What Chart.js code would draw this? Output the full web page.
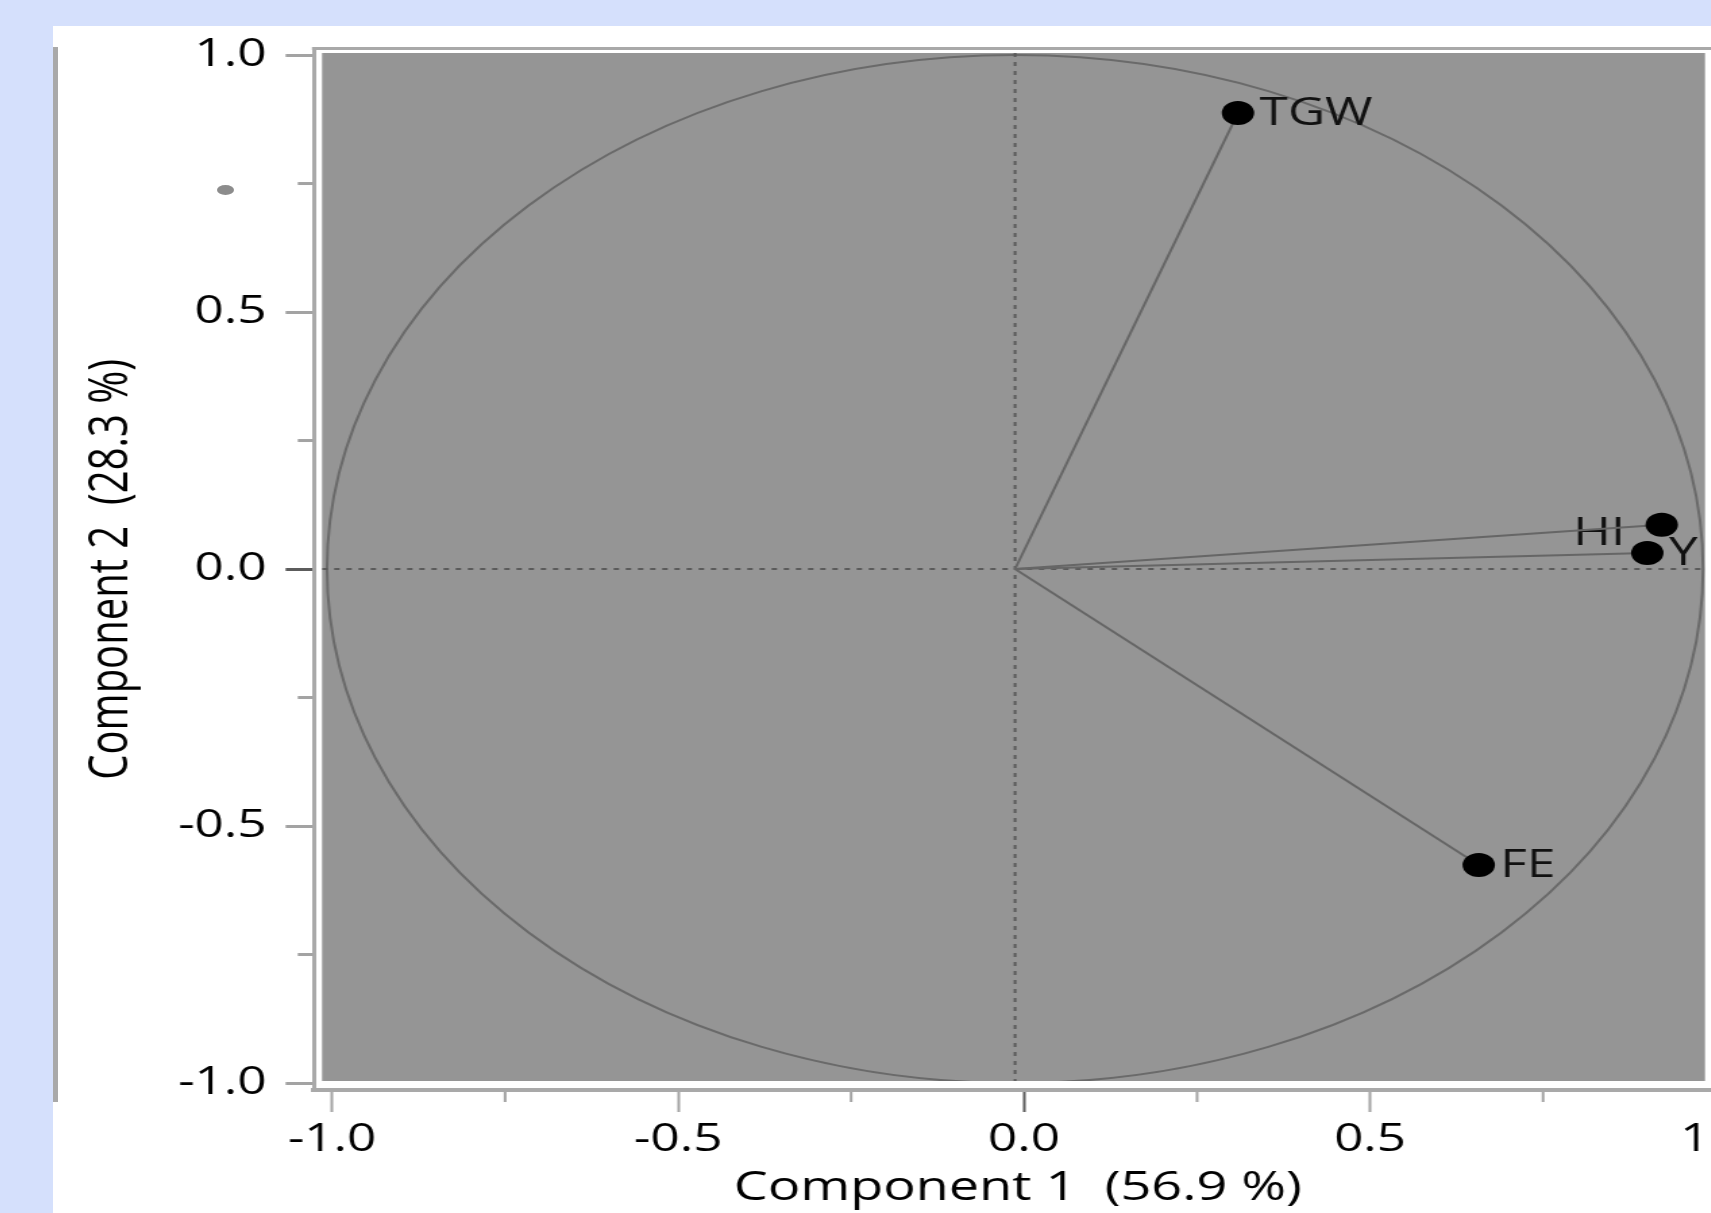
<!DOCTYPE html>
<html lang="en">
  <head>
    <meta charset="utf-8" />
    <title>Component 1 vs Component 2</title>
    <script src="https://cdn.jsdelivr.net/npm/chart.js"></script>
    <style>
      html, body { margin: 0; padding: 0; overflow: hidden; }
      body { width: 1711px; height: 1213px; background: #d5e0fc; position: relative; }
      .panel { position: absolute; left: 53px; top: 26px; right: 0; bottom: 0; background: #fff; }
      .edge { position: absolute; left: 53px; top: 47px; width: 5px; height: 1055px; background: #a9a9a9; }
      .speck { position: absolute; left: 217px; top: 185px; width: 17px; height: 10px; border-radius: 50%; background: #8c8c8c; }
      /* the original picture is stretched sideways, so the canvas is too */
      #pca { position: absolute; left: 53px; top: 26px; transform: scaleX(1.35); transform-origin: 0 0; }
    </style>
  </head>
  <body>
    <div class="panel"></div>
    <div class="edge"></div>
    <div class="speck"></div>
    <canvas id="pca" width="1260" height="1187"></canvas>

    <script>
      // loadings
      const VARIABLES = ['TGW', 'HI', 'Y', 'FE'];
      const COMP1 = [0.324, 0.940, 0.919, 0.674];
      const COMP2 = [0.887, 0.086, 0.031, -0.576];
      const MAJOR_TICKS = [-1, -0.5, 0, 0.5, 1];
      const MINOR_TICKS = [-0.75, -0.25, 0.25, 0.75];
      const X_TITLE = 'Component 1  (56.9 %)';
      const Y_TITLE = 'Component 2  (28.3 %)';

      // labels that sit on the left of their point
      const LABEL_LEFT = ['HI'];

      const FONT = "'Open Sans', 'Noto Sans', sans-serif";
      const FRAME = '#a9a9a9';
      const INSET = { left: 6, top: 4.5, right: 12.3, bottom: 9 };

      function fillBox(chart) {
        const a = chart.chartArea;
        return {
          left: a.left + INSET.left,
          top: a.top + INSET.top,
          right: a.right - INSET.right,
          bottom: a.bottom - INSET.bottom
        };
      }

      function tickColor(c) {
        return c.tick && c.tick.value === 0 ? '#5c5c5c' : '#a3a3a3';
      }

      const pcaPlot = {
        id: 'pcaPlot',
        beforeDraw(chart) {
          const ctx = chart.ctx;
          const a = chart.chartArea;
          const b = fillBox(chart);
          ctx.save();
          ctx.fillStyle = '#959595';
          ctx.fillRect(b.left, b.top, b.right - b.left, b.bottom - b.top);
          ctx.fillStyle = FRAME;
          ctx.fillRect(a.left - 1.5, a.top - 1.5, chart.width, 3);
          ctx.restore();
        },
        beforeDatasetsDraw(chart) {
          const ctx = chart.ctx;
          const b = fillBox(chart);
          const xd = chart.scales.xd;
          const y = chart.scales.y;
          const cx = xd.getPixelForValue(0);
          const cy = y.getPixelForValue(0);

          ctx.save();
          ctx.beginPath();
          ctx.rect(b.left, b.top, b.right - b.left, b.bottom - b.top);
          ctx.clip();

          // unit circle
          ctx.strokeStyle = '#6a6a6a';
          ctx.lineWidth = 2;
          ctx.beginPath();
          ctx.ellipse(cx, cy, xd.getPixelForValue(1) - cx, cy - y.getPixelForValue(1), 0, 0, Math.PI * 2);
          ctx.stroke();

          // zero lines
          ctx.strokeStyle = '#5a5a5a';
          ctx.setLineDash([4, 5]);
          ctx.beginPath();
          ctx.moveTo(cx, b.top);
          ctx.lineTo(cx, b.bottom);
          ctx.moveTo(b.left, cy);
          ctx.lineTo(b.right, cy);
          ctx.stroke();
          ctx.setLineDash([]);

          // variable names
          ctx.font = '38px ' + FONT;
          ctx.fillStyle = '#111';
          ctx.textBaseline = 'middle';
          VARIABLES.forEach(function (name, i) {
            const px = xd.getPixelForValue(COMP1[i]);
            const py = y.getPixelForValue(COMP2[i]);
            if (LABEL_LEFT.includes(name)) {
              ctx.textAlign = 'right';
              ctx.fillText(name, px - 27, py + 9);
            } else {
              ctx.textAlign = 'left';
              ctx.fillText(name, px + 16, py + 1);
            }
          });
          ctx.restore();
        },
        afterDraw(chart) {
          const ctx = chart.ctx;
          const a = chart.chartArea;
          ctx.save();
          ctx.fillStyle = '#a3a3a3';
          MINOR_TICKS.forEach(function (v) {
            const yy = chart.scales.y.getPixelForValue(v);
            ctx.fillRect(a.left - 12, yy - 1.5, 11, 3);
            const xx = chart.scales.x.getPixelForValue(v);
            ctx.fillRect(xx - 1, a.bottom + 2, 2, 10);
          });
          ctx.restore();
        }
      };

      // one line from the origin to each variable
      const datasets = VARIABLES.map(function (name, i) {
        return {
          label: name,
          data: [{ x: 0, y: 0 }, { x: COMP1[i], y: COMP2[i] }],
          showLine: true,
          borderColor: '#666',
          borderWidth: 2,
          pointRadius: [0, 12],
          pointHoverRadius: [0, 12],
          pointBackgroundColor: '#000',
          pointBorderWidth: 0,
          xAxisID: 'xd',
          yAxisID: 'y'
        };
      });

      const setTicks = function (scale) {
        scale.ticks = MAJOR_TICKS.map(function (v) { return { value: v }; });
      };

      const tickFont = { family: FONT, size: 38 };
      const titleFont = { family: FONT, size: 40 };

      new Chart(document.getElementById('pca'), {
        type: 'scatter',
        data: { datasets: datasets },
        options: {
          responsive: false,
          animation: false,
          layout: { padding: { top: 22.5, right: 24, bottom: 0, left: 0 } },
          plugins: { legend: { display: false }, tooltip: { enabled: false } },
          scales: {
            x: {
              type: 'linear',
              position: 'bottom',
              min: -1.0262,
              max: 1.008,
              afterBuildTicks: setTicks,
              afterFit: function (s) { s.height = 123; s.paddingLeft = 0; s.paddingRight = 0; },
              ticks: {
                autoSkip: false,
                maxRotation: 0,
                padding: 5,
                color: '#000',
                font: tickFont,
                callback: function (v) { return Number(v).toFixed(1); }
              },
              grid: { drawOnChartArea: false, tickLength: 22, tickWidth: 2, tickColor: tickColor },
              border: { color: FRAME, width: 4 },
              title: { display: true, text: X_TITLE, color: '#000', font: titleFont, padding: { top: 0, bottom: 0 } }
            },
            xd: {
              type: 'linear',
              display: false,
              min: -1.019,
              max: 1.027
            },
            y: {
              type: 'linear',
              position: 'left',
              min: -1.0136,
              max: 1.0127,
              afterBuildTicks: setTicks,
              afterFit: function (s) { s.width = 193.3; s.paddingTop = 0; s.paddingBottom = 0; },
              ticks: {
                autoSkip: false,
                padding: 14,
                color: '#000',
                font: tickFont,
                callback: function (v) { return Number(v).toFixed(1); }
              },
              grid: { drawOnChartArea: false, tickLength: 21, tickWidth: 3, tickColor: tickColor },
              border: { color: FRAME, width: 3 },
              title: { display: true, text: Y_TITLE, color: '#000', font: titleFont, padding: { top: 20, bottom: 0 } }
            }
          }
        },
        plugins: [pcaPlot]
      });
    </script>
  </body>
</html>
